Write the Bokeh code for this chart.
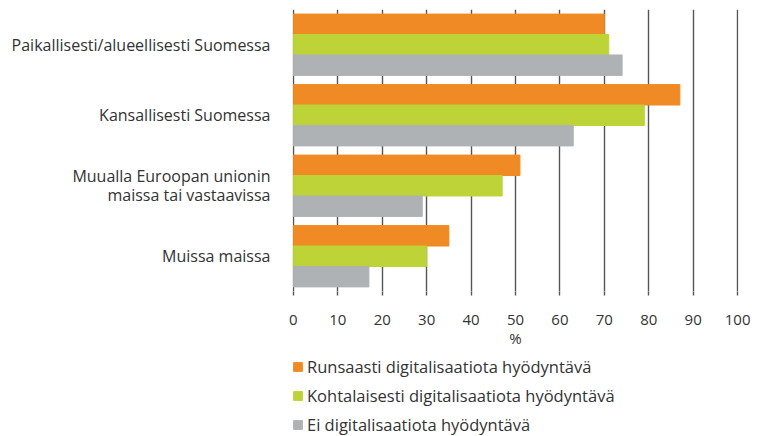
from bokeh.plotting import figure
from bokeh.models import FactorRange, Range1d, Legend, LegendItem, ColumnDataSource, FixedTicker
from bokeh.layouts import column
from bokeh.transform import dodge
from bokeh.embed import file_html
from bokeh.resources import INLINE

categories = [
    "Paikallisesti/alueellisesti Suomessa",
    "Kansallisesti Suomessa",
    "Muualla Euroopan unionin\nmaissa tai vastaavissa",
    "Muissa maissa",
]
runsaasti = [70, 87, 51, 35]
kohtalaisesti = [71, 79, 47, 30]
ei = [74, 63, 29, 17]
series_names = [
    "Runsaasti digitalisaatiota hyödyntävä",
    "Kohtalaisesti digitalisaatiota hyödyntävä",
    "Ei digitalisaatiota hyödyntävä",
]
colors = ["#F08A24", "#BED337", "#AFB2B5"]
x_ticks = [0, 10, 20, 30, 40, 50, 60, 70, 80, 90, 100]

FONT = "Open Sans"
TXT = "#333333"

src = ColumnDataSource(dict(cat=categories, r=runsaasti, k=kohtalaisesti, e=ei))
fields = ["r", "k", "e"]
bw = 0.29
offsets = [bw, 0.0, -bw]

p = figure(
    frame_width=446, frame_height=282,
    y_range=FactorRange(factors=list(reversed(categories)), range_padding=0.0),
    x_range=Range1d(-0.2, 100.2),
    output_backend="svg", toolbar_location=None,
    min_border_left=292, min_border_right=20, min_border_top=9, min_border_bottom=64,
)

for f, off, c in zip(fields, offsets, colors):
    p.hbar(y=dodge("cat", off, range=p.y_range), right=f, left=0, height=bw, color=c, source=src)

p.outline_line_color = None
p.ygrid.grid_line_color = None
p.xgrid.grid_line_color = "#555555"
p.xgrid.grid_line_width = 1.4
p.xgrid.level = "underlay"

p.xaxis.ticker = FixedTicker(ticks=x_ticks)
p.xaxis.axis_line_color = None
p.xaxis.major_tick_line_color = "#555555"
p.xaxis.major_tick_line_width = 1.4
p.xaxis.major_tick_in = 0
p.xaxis.major_tick_out = 4
p.xaxis.minor_tick_line_color = None
p.xaxis.major_label_standoff = 19
p.xaxis.major_label_text_font = FONT
p.xaxis.major_label_text_font_size = "15px"
p.xaxis.major_label_text_color = TXT
p.xaxis.axis_label = "%"
p.xaxis.axis_label_standoff = 0
p.xaxis.axis_label_text_font = FONT
p.xaxis.axis_label_text_font_size = "15px"
p.xaxis.axis_label_text_font_style = "normal"
p.xaxis.axis_label_text_color = TXT

p.yaxis.axis_line_color = None
p.yaxis.major_tick_line_color = None
p.yaxis.major_tick_out = 0
p.yaxis.major_label_standoff = 22
p.yaxis.major_label_text_font = FONT
p.yaxis.major_label_text_font_size = "16px"
p.yaxis.major_label_text_color = TXT
p.yaxis.major_label_text_line_height = 0.85

# legend panel as a separate figure below the chart (same data, hidden renderers)
lg = figure(
    frame_width=446, frame_height=81,
    x_range=p.x_range, y_range=p.y_range,
    x_axis_type=None, y_axis_type=None,
    output_backend="svg", toolbar_location=None,
    min_border_left=292, min_border_right=20, min_border_top=0, min_border_bottom=0,
)
lg.outline_line_color = None
lg.grid.visible = False
proxies = [
    lg.hbar(y=dodge("cat", off, range=lg.y_range), right=f, left=0, height=bw, color=c,
            source=src, visible=False)
    for f, off, c in zip(fields, offsets, colors)
]

legend = Legend(
    items=[LegendItem(label=series_names[i], renderers=[r]) for i, r in enumerate(proxies)],
    orientation="vertical", location="top_left",
    glyph_width=11, glyph_height=11, label_height=11, spacing=6,
    label_standoff=4, padding=0, margin=0,
    border_line_color=None, background_fill_alpha=0,
    inactive_fill_alpha=0,
    label_text_font=FONT, label_text_font_size="16.5px", label_text_color=TXT,
)
lg.add_layout(legend, "center")

layout = column(p, lg, spacing=0)
open("out.html", "w").write(file_html(layout, INLINE))
